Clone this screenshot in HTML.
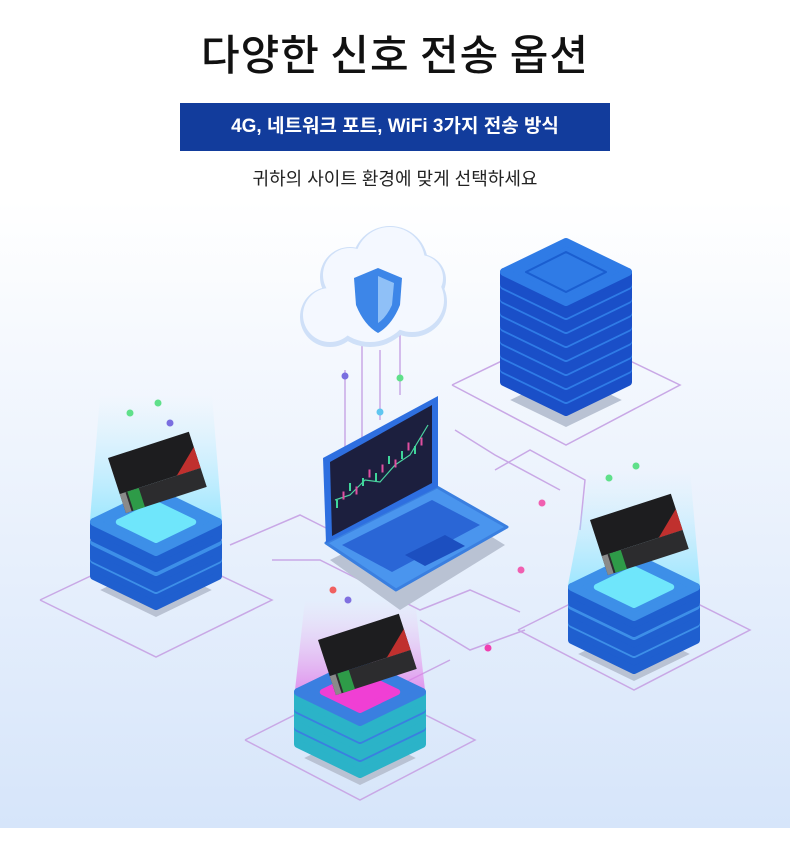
<!DOCTYPE html>
<html><head><meta charset="utf-8"><style>
html,body{margin:0;padding:0}
body{width:790px;height:842px;position:relative;overflow:hidden;background:#fff;font-family:"Liberation Sans","Noto Sans CJK KR",sans-serif}
.bg{position:absolute;left:0;top:0;width:790px;height:828px;background:linear-gradient(#ffffff 0px,#ffffff 200px,#eef4fd 450px,#d6e5fa 828px)}
h1{position:absolute;top:22px;left:0;width:790px;text-align:center;margin:0;font-size:42px;font-weight:500;color:#111;letter-spacing:1px;font-family:"Noto Sans CJK KR",sans-serif}
.ban{position:absolute;left:180px;top:103px;width:430px;height:48px;background:#123c9c;color:#fff;font-size:19px;font-weight:700;text-align:center;line-height:48px}
.sub{position:absolute;top:165px;left:0;width:790px;text-align:center;font-size:18px;color:#222}
svg{position:absolute;left:0;top:0}
</style></head><body>
<div class="bg"></div>
<h1>다양한 신호 전송 옵션</h1>
<div class="ban">4G, 네트워크 포트, WiFi 3가지 전송 방식</div>
<div class="sub">귀하의 사이트 환경에 맞게 선택하세요</div>
<svg id="s" width="790" height="842" viewBox="0 0 790 842">
<defs>
<linearGradient id="beam" x1="0" y1="0" x2="0" y2="1"><stop offset="0" stop-color="#bff0ff" stop-opacity="0"/><stop offset="1" stop-color="#7fe3ff" stop-opacity="0.7"/></linearGradient>
<linearGradient id="beamp" x1="0" y1="0" x2="0" y2="1"><stop offset="0" stop-color="#f7c0f0" stop-opacity="0"/><stop offset="1" stop-color="#e070e8" stop-opacity="0.7"/></linearGradient>
</defs>
<g fill="none" stroke="#c9a8e6" stroke-width="1.5" id="lines">
<polyline points="40,600 156,545 272,600 156,657 40,600"/>
<polyline points="518,630 634,572 750,630 634,690 518,630"/>
<polyline points="245,740 360,682 475,740 360,800 245,740"/>
<polyline points="452,385 566,330 680,385 566,445 452,385"/>
<polyline points="230,545 300,515 330,530"/>
<polyline points="272,560 320,560 420,610 470,590 520,612"/>
<polyline points="495,470 530,450 585,480 580,530"/>
<polyline points="455,430 495,455 560,490"/>
<polyline points="420,620 470,650 525,630"/>
<polyline points="390,690 450,660"/>
<polyline points="345,370 345,470"/><polyline points="362,345 362,450"/><polyline points="380,350 380,420"/><polyline points="400,330 400,395"/>
</g>
</svg>
<script>
var s=document.getElementById('s'),NS='http://www.w3.org/2000/svg';
function el(t,a){var e=document.createElementNS(NS,t);for(var k in a)e.setAttribute(k,a[k]);s.appendChild(e);return e}
function dia(cx,cy,w,h){return (cx-w)+','+cy+' '+cx+','+(cy-h)+' '+(cx+w)+','+cy+' '+cx+','+(cy+h)}
function stack(cx,cys,w,h,t,top,side,inner){
 el('polygon',{points:dia(cx,cys[cys.length-1]+30,w*0.9,h*0.9),fill:'#b9c2d3'});
 for(var i=cys.length-1;i>=0;i--){var cy=cys[i];
  el('polygon',{points:(cx-w)+','+cy+' '+cx+','+(cy+h)+' '+(cx+w)+','+cy+' '+(cx+w)+','+(cy+t)+' '+cx+','+(cy+h+t)+' '+(cx-w)+','+(cy+t),fill:side,stroke:side,'stroke-linejoin':'round','stroke-width':8});
  el('polygon',{points:dia(cx,cy,w,h),fill:top,stroke:top,'stroke-linejoin':'round','stroke-width':8});
 }
 if(inner)el('polygon',{points:dia(cx,cys[0],w*0.6,h*0.6),fill:inner,stroke:inner,'stroke-width':6,'stroke-linejoin':'round'});
}
el('polygon',{points:'100,395 212,395 222,520 90,520',fill:'url(#beam)'});
el('polygon',{points:'590,470 690,470 700,585 568,585',fill:'url(#beam)'});
el('polygon',{points:'305,600 415,600 425,690 295,690',fill:'url(#beamp)'});
stack(156,[522,542,560],62,30,16,'#3d8fe8','#1f5fcf','#6fe6fb');
stack(634,[587,606,624],62,30,16,'#3d8fe8','#1f5fcf','#6fe6fb');
stack(360,[692,710,728],62,30,16,'#3a7fe0','#2bb3c8','#f03fd4');
var sc=[];for(var i=0;i<8;i++)sc.push(272+i*14);
stack(566,sc,62,30,12,'#2f7be6','#1a4fc8',null);
el('polygon',{points:dia(566,272,40,20),fill:'none',stroke:'#1a5ed0','stroke-width':2,'stroke-linejoin':'round'});
el('polygon',{points:'330,560 400,610 505,545 440,505',fill:'#b9c2d3'});
el('polygon',{points:'326,543 437,487 507,527 396,590',fill:'#4a95ee',stroke:'#3a7fe0','stroke-width':3,'stroke-linejoin':'round'});
el('polygon',{points:'342,545 432,500 480,525 392,572',fill:'#2a66d6'});
el('polygon',{points:'405,555 445,535 465,546 425,566',fill:'#1c4fc0'});
el('polygon',{points:'323,458 438,396 438,487 326,543',fill:'#2e6fe0'});
el('polygon',{points:'330,462 432,405 432,483 332,536',fill:'#1c1f3e'});
el('polyline',{points:'335,500 350,495 365,480 380,482 395,465 410,455 428,425',fill:'none',stroke:'#4bd3a0','stroke-width':1.2});
for(var i=0;i<14;i++){el('rect',{x:336+i*6.5,y:500-i*4.5-(i%3)*4,width:2,height:8,fill:i%2?'#e04fa0':'#3fd69a'})}
var cl=[[370,300,45],[330,315,30],[412,300,35],[350,275,30],[390,262,38],[420,278,26]];
cl.forEach(function(c){el('circle',{cx:c[0],cy:c[1]+2,r:c[2],fill:'#cfe0f8'})});
cl.forEach(function(c){el('circle',{cx:c[0],cy:c[1],r:c[2]-3,fill:'#f4f8ff'})});
el('path',{d:'M378 268 L402 278 L400 305 Q392 325 378 333 Q364 325 356 305 L354 278 Z',fill:'#3d86e8'});
el('path',{d:'M378 276 L394 283 L392 305 Q386 318 378 323 Z',fill:'#8fc0f7'});
function dev(x,y){var g=el('g',{transform:'translate('+x+','+y+') rotate(-18)'});
 function r(t,a){var e=document.createElementNS(NS,t);for(var k in a)e.setAttribute(k,a[k]);g.appendChild(e)}
 r('rect',{x:0,y:0,width:85,height:38,fill:'#1d1d1f'});
 r('rect',{x:0,y:38,width:85,height:20,fill:'#2c2c2e'});
 r('rect',{x:0,y:38,width:6,height:20,fill:'#8a8a8a'});
 r('rect',{x:8,y:38,width:12,height:20,fill:'#2e9b48'});
 r('polygon',{points:'60,38 85,16 85,38',fill:'#c0302e'});}
dev(108,458);dev(590,520);dev(318,640);
[[130,413,'#5fe08a'],[158,403,'#5fe08a'],[170,423,'#7a6fe0'],[345,376,'#7a6fe0'],[380,412,'#5fc6f0'],[400,378,'#5fe08a'],[333,590,'#f06060'],[348,600,'#8070e0'],[609,478,'#5fe08a'],[636,466,'#5fe08a'],[542,503,'#f05fb0'],[521,570,'#f05fb0'],[488,648,'#f03fb0']].forEach(function(d){el('circle',{cx:d[0],cy:d[1],r:3.5,fill:d[2]})});
</script>
</body></html>
